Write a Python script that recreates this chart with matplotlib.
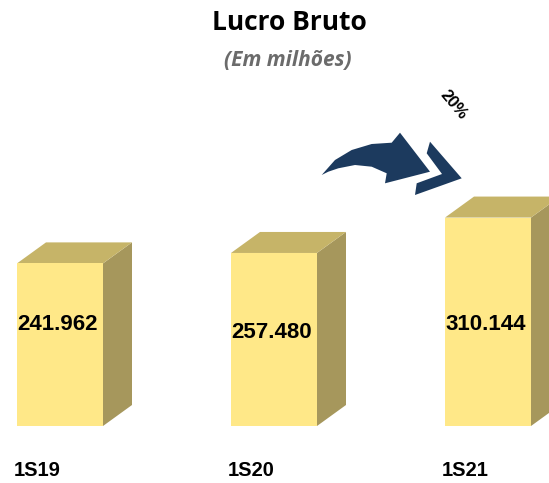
import matplotlib
matplotlib.use("Agg")
import matplotlib.pyplot as plt
from matplotlib.patches import Polygon
from matplotlib.transforms import Affine2D

# Dados do gráfico
periodos = ["1S19", "1S20", "1S21"]
valores = [241962, 257480, 310144]
rotulos = ["241.962", "257.480", "310.144"]
crescimento = "20%"

# Figura 549x483 px
fig = plt.figure(figsize=(5.49, 4.83), dpi=100)
ax = fig.add_axes([0, 0, 1, 1])
ax.set_xlim(0, 549)
escala = 1488  # valor por pixel
ax.set_ylim(-57 * escala, 426 * escala)
ax.axis("off")

# transformacao em pixels (origem no canto superior esquerdo)
px = Affine2D().scale(1 / 549, -1 / 483).translate(0, 1) + fig.transFigure

centros = [60, 274, 488]
largura = 86
dx = 29
dy = 21 * escala

cor_frente = "#FFE888"
cor_topo = "#C6B468"
cor_lado = "#A6975C"

for xc, v in zip(centros, valores):
    x0 = xc - largura / 2
    x1 = xc + largura / 2
    frente = Polygon([(x0, 0), (x1, 0), (x1, v), (x0, v)], closed=True,
                     facecolor=cor_frente, edgecolor="none")
    topo = Polygon([(x0, v), (x1, v), (x1 + dx, v + dy), (x0 + dx, v + dy)],
                   closed=True, facecolor=cor_topo, edgecolor="none")
    lado = Polygon([(x1, 0), (x1 + dx, dy), (x1 + dx, v + dy), (x1, v)],
                   closed=True, facecolor=cor_lado, edgecolor="none")
    ax.add_patch(lado)
    ax.add_patch(topo)
    ax.add_patch(frente)

# rotulos de valor
desloc = [0, -8, 0]
for xc, rot, d in zip(centros, rotulos, desloc):
    ax.text(xc - 2, (102 + d) * escala, rot, ha="center", va="center",
            fontsize=16, fontweight="bold", family="Liberation Sans", color="black")

# periodos
for xc, p in zip(centros, periodos):
    ax.text(xc - 23, -44 * escala, p, ha="center", va="center",
            fontsize=14.5, fontweight="bold", family="Liberation Sans", color="black")

# titulo
fig.text(0.528, 1 - 22 / 483, "Lucro Bruto", ha="center", va="center",
         fontsize=19, fontweight="bold", family="Open Sans", color="black")
fig.text(0.525, 1 - 60 / 483, "(Em milhões)", ha="center", va="center",
         fontsize=15, fontweight="bold", style="italic", family="Open Sans",
         color="#6B6B6B")

# seta curva
seta = [(321.7, 175), (335, 160), (351.7, 150), (371.7, 144), (391.7, 142.7),
        (400, 132.7), (430, 171.7), (385, 183.3), (386.7, 173.3),
        (371.7, 166.7), (355, 165), (338.3, 168.3), (328.3, 171.7)]
ax.add_patch(Polygon(seta, closed=True, facecolor="#1C3A5E", edgecolor="none",
                     transform=px))
chevron = [(430, 141.7), (461.7, 178.3), (415, 195), (416.7, 183.3),
           (442, 174), (426.7, 153.3)]
ax.add_patch(Polygon(chevron, closed=True, facecolor="#1C3A5E", edgecolor="none",
                     transform=px))

ax.text(453, 105, crescimento, ha="center", va="center", rotation=-50,
        fontsize=12, fontweight="bold", family="Liberation Sans", transform=px)

fig.savefig("out.png", dpi=100)
